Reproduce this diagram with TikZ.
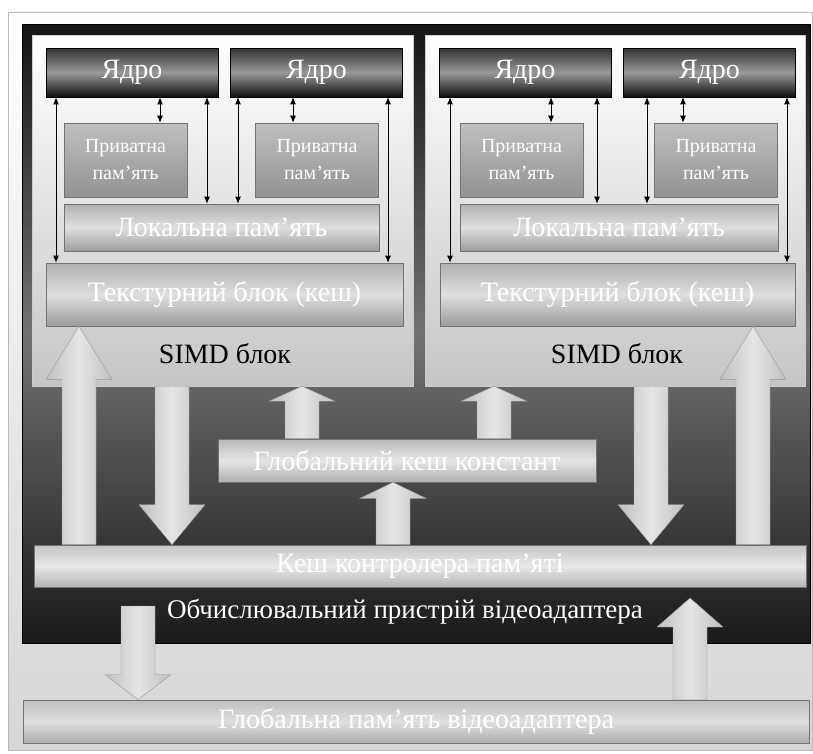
\documentclass[tikz,border=0pt]{standalone}
\usepackage{fontspec}
\setmainfont{Liberation Serif}
\usetikzlibrary{arrows.meta,calc}

% товста стрілка: x, звідки, куди, довжина голівки
\newcommand{\fatarrow}[4]{%
  \path[fat] let \p1=(#1,0 |- #2), \p2=(#1,0 |- #3), \n1={sign(\y2-\y1)*#4} in
    (\x1-17pt,\y1) -- (\x1-17pt,\y2-\n1*1pt) -- (\x1-33pt,\y2-\n1*1pt) -- (\x1,\y2)
    -- (\x1+33pt,\y2-\n1*1pt) -- (\x1+17pt,\y2-\n1*1pt) -- (\x1+17pt,\y1) -- cycle;}

\begin{document}
\begin{tikzpicture}[x=1pt,y=-1pt,
  every node/.style={inner sep=0pt, font=\fontsize{28}{32}\selectfont},
  bar/.style={draw=black!55, line width=0.6pt, top color=gray!62, bottom color=gray!78, middle color=gray!25, text=white},
  core/.style={draw=black, line width=0.6pt, top color=black!80, bottom color=black!95, middle color=black!40, text=white, minimum width=172pt, minimum height=49pt},
  priv/.style={bar, top color=gray!50, bottom color=gray!85, middle color=gray!68, minimum width=123pt, minimum height=74pt, align=center, font=\fontsize{20}{27}\selectfont},
  panel/.style={draw=gray!40, top color=white, bottom color=gray!45, minimum width=381pt, minimum height=351pt},
  link/.style={{Latex[length=7pt,width=6pt]}-{Latex[length=7pt,width=6pt]}, line width=0.9pt},
  fat/.style={draw=gray!80, line width=0.4pt, left color=gray!50, right color=gray!50, middle color=gray!20}]
\useasboundingbox (0,0) rectangle (813,753);

% рамки
\node[draw=gray!55, line width=0.8pt, top color=white, bottom color=gray!32, minimum width=804pt, minimum height=738pt] (outer) at (410,381) {};
\node[draw=black, top color=black!92, bottom color=black!90, middle color=black!55, minimum width=788pt, minimum height=619pt] (dev) at (416,333.5) {};
\node[panel] (sb1) at (222.5,210.5) {};
\node[panel, minimum width=380pt] (sb2) at (615,210.5) {};

% ядра
\node[core] (c1) at (132,72.5) {Ядро};
\node[core] (c2) at (316.5,72.5) {Ядро};
\node[core] (c3) at (525,72.5) {Ядро};
\node[core] (c4) at (709.5,72.5) {Ядро};

% пам'ять
\node[priv] (p1) at (125.5,160) {Приватна\\пам’ять};
\node[priv] (p2) at (317,160) {Приватна\\пам’ять};
\node[priv] (p3) at (521.5,160) {Приватна\\пам’ять};
\node[priv] (p4) at (716,160) {Приватна\\пам’ять};
\node[bar, minimum width=315pt, minimum height=47pt] (loc1) at (221.5,227.5) {Локальна пам’ять};
\node[bar, minimum width=318pt, minimum height=47pt] (loc2) at (619,227.5) {Локальна пам’ять};
\node[bar, minimum width=357pt, minimum height=63pt] (tex1) at (224.5,294.5) {Текстурний блок (кеш)};
\node[bar, minimum width=355pt, minimum height=63pt] (tex2) at (617.5,294.5) {Текстурний блок (кеш)};
\node (simd1) at (225,354) {SIMD блок};
\node (simd2) at (617,354) {SIMD блок};

\node[bar, top color=gray!55, bottom color=gray!62, middle color=gray!20, minimum width=378pt, minimum height=43pt] (cc) at (407,460.5) {Глобальний кеш констант};
\node[bar, top color=gray!45, bottom color=gray!58, middle color=gray!18, minimum width=772pt, minimum height=42pt] (kc) at (420,566) {Кеш контролера пам’яті};
\node[text=white, font=\fontsize{27}{32}\selectfont] (devl) at (405,612) {Обчислювальний пристрій відеоадаптера};
\node[bar, top color=gray!50, bottom color=gray!65, middle color=gray!25, minimum width=786pt, minimum height=43pt] (gm) at (416,721.5) {Глобальна пам’ять відеоадаптера};
\coordinate (dn) at (138,606);
\coordinate (up) at (690,598);

% тонкі стрілки
\draw[link] (56,0 |- c1.south) -- (56,0 |- tex1.north);
\draw[link] (160,0 |- c1.south) -- (160,0 |- p1.north);
\draw[link] (207,0 |- c1.south) -- (207,0 |- loc1.north);
\draw[link] (238,0 |- c2.south) -- (238,0 |- loc1.north);
\draw[link] (293,0 |- c2.south) -- (293,0 |- p2.north);
\draw[link] (388,0 |- c2.south) -- (388,0 |- tex1.north);
\draw[link] (450,0 |- c3.south) -- (450,0 |- tex2.north);
\draw[link] (551,0 |- c3.south) -- (551,0 |- p3.north);
\draw[link] (597,0 |- c3.south) -- (597,0 |- loc2.north);
\draw[link] (647,0 |- c4.south) -- (647,0 |- loc2.north);
\draw[link] (683,0 |- c4.south) -- (683,0 |- p4.north);
\draw[link] (787,0 |- c4.south) -- (787,0 |- tex2.north);

% товсті стрілки
\fatarrow{79}{kc.north}{tex1.south}{53}
\fatarrow{172}{sb1.south}{kc.north}{40}
\fatarrow{302}{cc.north}{sb1.south}{15}
\fatarrow{494}{cc.north}{sb2.south}{15}
\fatarrow{393}{kc.north}{cc.south}{16}
\fatarrow{651}{sb2.south}{kc.north}{40}
\fatarrow{753}{kc.north}{tex2.south}{53}
\fatarrow{138}{dn}{gm.north}{25}
\fatarrow{690}{gm.north}{up}{29}
\end{tikzpicture}
\end{document}
